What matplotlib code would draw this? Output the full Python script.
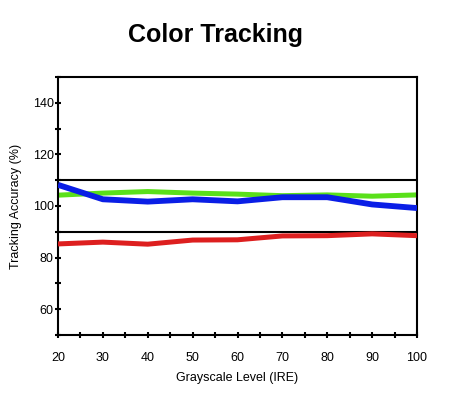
import numpy as np
import matplotlib.pyplot as plt
from matplotlib.ticker import MultipleLocator

plt.rcParams['font.family'] = ['Liberation Sans', 'DejaVu Sans']

ire = [20, 30, 40, 50, 60, 70, 80, 90, 100]
green = [104.2, 105.0, 105.6, 105.0, 104.6, 104.0, 104.3, 103.8, 104.3]
blue = [108.2, 102.6, 101.7, 102.6, 101.8, 103.4, 103.4, 100.6, 99.2]
red = [85.3, 86.0, 85.2, 86.8, 86.9, 88.4, 88.5, 89.2, 88.5]
limits = [110, 90]

fig = plt.figure(figsize=(4.5, 3.96), dpi=100)
ax = fig.add_axes([58/450, 1-335/396, (417-58)/450, (335-77)/396])

for lim in limits:
    ax.axhline(lim, color='black', lw=1.5, zorder=1)

ax.plot(ire, green, color='#5ae01a', lw=3.6, zorder=2, solid_capstyle='butt')
ax.plot(ire, red, color='#dd1f1f', lw=3.6, zorder=3, solid_capstyle='butt')
ax.plot(ire, blue, color='#0a1ee6', lw=4.2, zorder=4, solid_capstyle='butt')

ax.set_xlim(20, 100)
ax.set_ylim(50, 150)
ax.set_xticks(ire)
ax.set_yticks([60, 80, 100, 120, 140])
ax.xaxis.set_minor_locator(MultipleLocator(5))
ax.yaxis.set_minor_locator(MultipleLocator(10))
ax.tick_params(which='both', direction='inout', length=4, width=1.5, labelsize=9)
ax.tick_params(axis='x', pad=10)
ax.tick_params(axis='y', pad=1)
for s in ax.spines.values():
    s.set_linewidth(1.5)

ax.set_xlabel('Grayscale Level (IRE)', fontsize=9, labelpad=6)
ax.set_ylabel('Tracking Accuracy (%)', fontsize=9, labelpad=8)
fig.text(0.48, 1-35/396, 'Color Tracking', fontsize=18, fontweight='bold', ha='center', va='center')

fig.savefig('out.png', dpi=100)
